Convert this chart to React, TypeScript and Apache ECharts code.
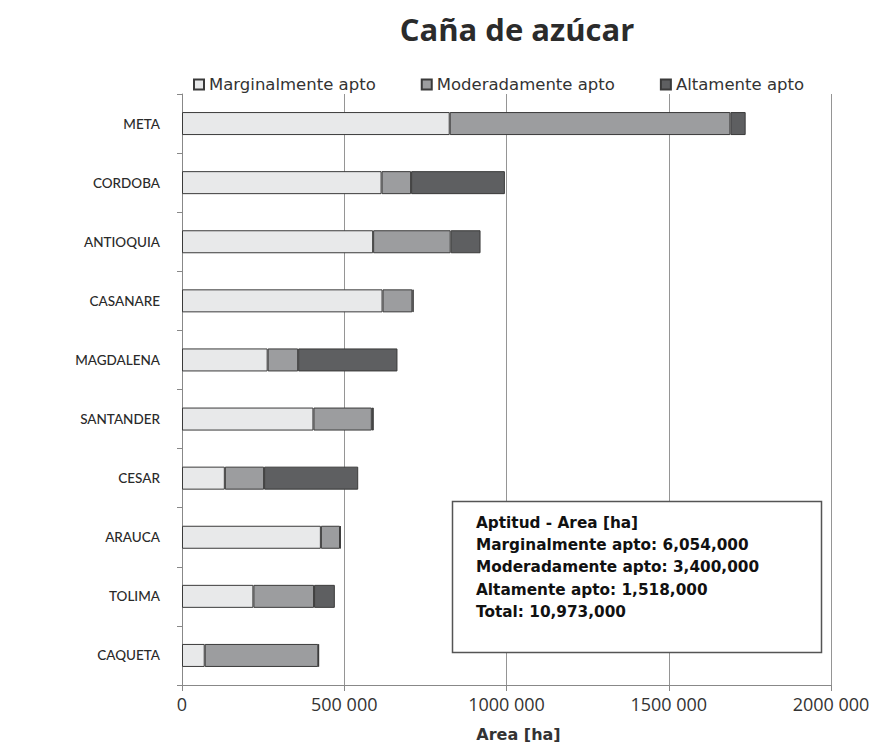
import React, { useEffect, useRef } from "react";
import * as echarts from "echarts";

const categories = ["META", "CORDOBA", "ANTIOQUIA", "CASANARE", "MAGDALENA", "SANTANDER", "CESAR", "ARAUCA", "TOLIMA", "CAQUETA"];
const marginal = [825000, 615000, 589000, 618000, 264000, 405000, 132000, 428000, 220000, 70000];
const moderado = [865000, 91000, 239000, 92000, 94000, 180000, 121000, 59000, 187000, 350000];
const alto = [47000, 289000, 92000, 4000, 306000, 6000, 290000, 2000, 64000, 2000];
const seriesNames = ["Marginalmente apto", "Moderadamente apto", "Altamente apto"];
const tickLabels: Record<number, string> = { 0: "0", 500000: "500 000", 1000000: "1000 000", 1500000: "1500 000", 2000000: "2000 000" };
const boxLines = [
  "Aptitud - Area [ha]",
  "Marginalmente apto: 6,054,000",
  "Moderadamente apto: 3,400,000",
  "Altamente apto: 1,518,000",
  "Total: 10,973,000",
];

const colors = ["#e8e9ea", "#9c9d9f", "#5e5f61"];

export default function App() {
  const ref = useRef<HTMLDivElement>(null);
  useEffect(() => {
    if (!ref.current) return;
    const chart = echarts.init(ref.current, undefined, { renderer: "svg" });
    const mk = (name: string, data: number[], i: number) => ({
      name,
      type: "bar",
      stack: "total",
      data,
      barWidth: 23,
      itemStyle: { color: colors[i], borderColor: "#3a3a3a", borderWidth: 1 },
    });
    chart.setOption({
      animation: false,
      backgroundColor: "#ffffff",
      title: {
        text: "Caña de azúcar",
        left: 512,
        textAlign: "center",
        top: 8,
        textStyle: { fontFamily: "'Open Sans', sans-serif", fontSize: 31, fontWeight: "bold", color: "#2b2b2b" },
      },
      legend: {
        left: 188,
        top: 71,
        icon: "rect",
        itemWidth: 10,
        itemHeight: 10,
        itemGap: 45,
        textStyle: { fontFamily: "'DejaVu Sans', sans-serif", fontSize: 16.5, color: "#333" },
        data: seriesNames,
      },
      grid: { left: 182, right: 47, top: 94, bottom: 63, containLabel: false },
      xAxis: {
        type: "value",
        min: 0,
        max: 2000000,
        interval: 500000,
        name: "Area [ha]",
        nameLocation: "middle",
        nameGap: 41,
        nameTextStyle: { fontFamily: "'DejaVu Sans', sans-serif", fontSize: 16, fontWeight: "bold", color: "#333", padding: [0, 0, 0, 24] },
        axisLine: { show: true, lineStyle: { color: "#888", width: 1 } },
        axisTick: { show: true, length: 6, lineStyle: { color: "#888" } },
        axisLabel: {
          fontFamily: "'Open Sans', sans-serif",
          fontSize: 18,
          color: "#333",
          margin: 10,
          formatter: (v: number) => tickLabels[v] ?? String(v),
        },
        splitLine: { show: true, lineStyle: { color: "#959595", width: 1 } },
      },
      yAxis: {
        type: "category",
        data: categories,
        inverse: true,
        axisLine: { show: true, lineStyle: { color: "#888", width: 1 } },
        axisTick: { show: true, length: 5, lineStyle: { color: "#888" } },
        axisLabel: { fontFamily: "Lato, sans-serif", fontSize: 13.5, fontWeight: 500, color: "#2a2a2a", margin: 22 },
      },
      series: [mk(seriesNames[0], marginal, 0), mk(seriesNames[1], moderado, 1), mk(seriesNames[2], alto, 2)],
      graphic: [
        {
          type: "rect",
          shape: { x: 452.5, y: 501.5, width: 369, height: 151 },
          style: { fill: "#ffffff", stroke: "#555", lineWidth: 1.5 },
          z: 100,
        },
        ...boxLines.map((t, i) => ({
          type: "text",
          x: 476,
          y: 523 + i * 22.2,
          z: 101,
          style: {
            text: t,
            fill: "#111",
            font: "bold 15.3px 'DejaVu Sans', sans-serif",
            verticalAlign: "middle",
          },
        })),
      ],
    });
    return () => chart.dispose();
  }, []);
  return <div ref={ref} style={{ position: "fixed", left: 0, top: 0, width: 878, height: 748 }} />;
}
